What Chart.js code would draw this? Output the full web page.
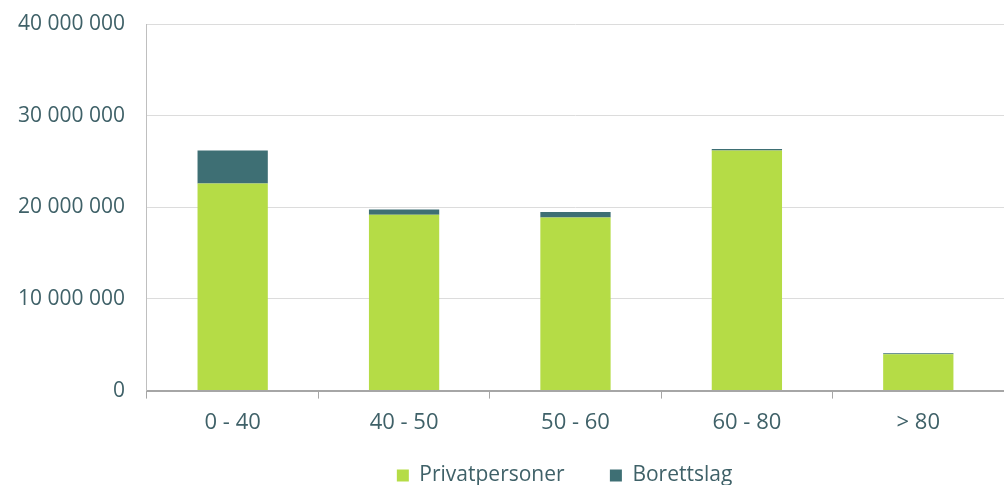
<!DOCTYPE html>
<html>
<head>
<meta charset="utf-8">
<script src="https://cdn.jsdelivr.net/npm/chart.js@4"></script>
<style>
    html, body { margin: 0; padding: 0; background: #fff; }
    #wrap { width: 1004px; height: 485px; }
</style>
</head>
<body>
<div id="wrap"><canvas id="chart"></canvas></div>
<script>
const categories = ["0 - 40", "40 - 50", "50 - 60", "60 - 80", "> 80"];
const privatpersoner = [22600000, 19200000, 18900000, 26200000, 3970000];
const borettslag = [3600000, 550000, 580000, 150000, 110000];
const yTicks = [0, 10000000, 20000000, 30000000, 40000000];

const TEXT = "#3f6168";
const GREEN = "#b5dc46";
const TEAL = "#3e6f74";

function formatNumber(v) {
    return String(v).replace(/\B(?=(\d{3})+(?!\d))/g, " ");
}

Chart.defaults.font.family = "'Open Sans', sans-serif";
Chart.defaults.color = TEXT;

new Chart(document.getElementById("chart"), {
    type: "bar",
    data: {
        labels: categories,
        datasets: [
            { label: "Privatpersoner", data: privatpersoner, backgroundColor: GREEN, barPercentage: 0.82, categoryPercentage: 0.5 },
            { label: "Borettslag",     data: borettslag,     backgroundColor: TEAL,  barPercentage: 0.82, categoryPercentage: 0.5 },
        ]
    },
    options: {
        responsive: true,
        maintainAspectRatio: false,
        animation: false,
        layout: { padding: { top: 24, right: 0, left: -4, bottom: -11 } },
        plugins: {
            tooltip: { enabled: false },
            legend: {
                position: "bottom",
                fullSize: false,
                labels: {
                    boxWidth: 12,
                    boxHeight: 12,
                    padding: 18,
                    font: { size: 21 },
                    color: TEXT,
                    // trailing spaces: wider gap between items, legend sits a bit left
                    generateLabels: chart => {
                        const items = Chart.defaults.plugins.legend.labels.generateLabels(chart);
                        return items.map((it, i) => {
                            it.text += "\u00a0".repeat(i < items.length - 1 ? 5 : 4);
                            return it;
                        });
                    },
                }
            }
        },
        scales: {
            x: {
                stacked: true,
                grid: { offset: true, drawOnChartArea: false, drawTicks: true, tickLength: 8, color: "#a6a6a6" },
                border: { color: "#a6a6a6", width: 2 },
                ticks: { font: { size: 22 }, color: TEXT, padding: 11 },
            },
            y: {
                stacked: true,
                min: 0,
                max: 40000000,
                afterBuildTicks: axis => { axis.ticks = yTicks.map(v => ({ value: v })); },
                // tick padding should not push the plot top down
                afterFit: axis => { axis.paddingTop = 0; },
                grid: { color: "#dcdcdc", drawTicks: false },
                border: { color: "#bfbfbf", width: 1 },
                ticks: {
                    font: { size: 21 },
                    color: TEXT,
                    padding: 22,
                    callback: v => formatNumber(v),
                },
            }
        }
    }
});
</script>
</body>
</html>
